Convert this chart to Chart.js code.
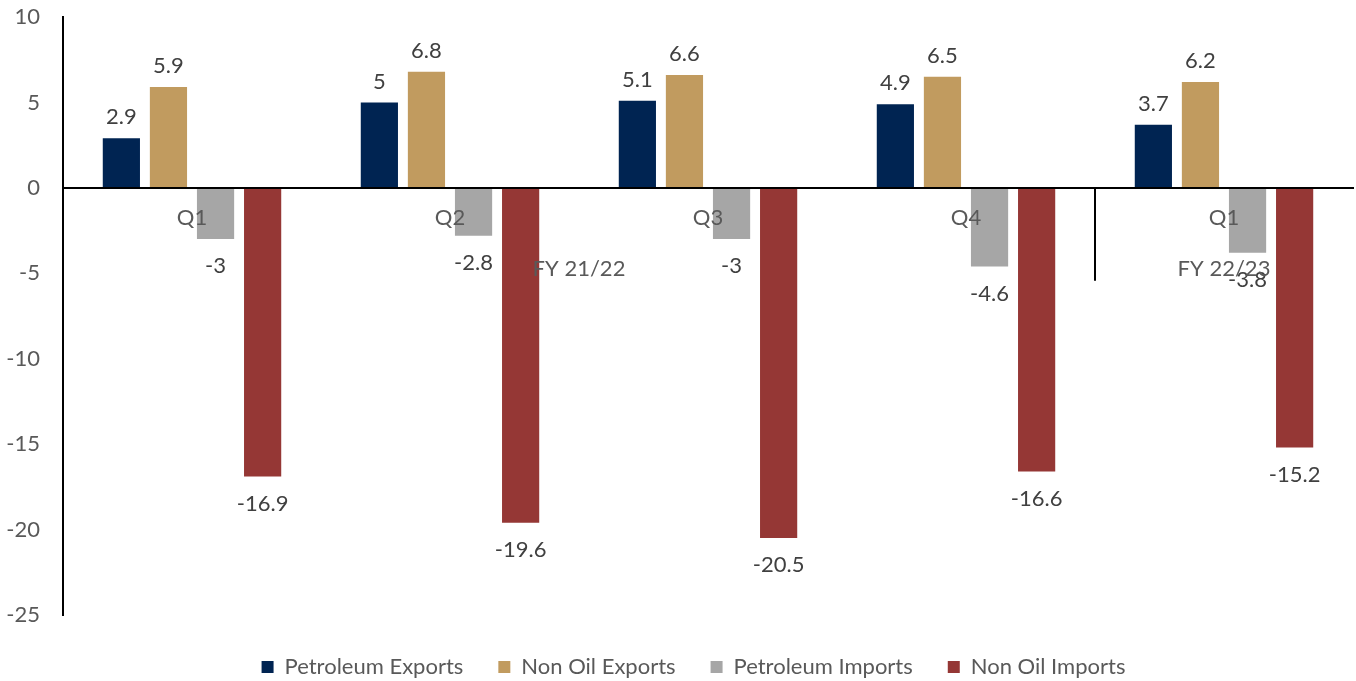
<!DOCTYPE html>
<html>
<head>
<meta charset="utf-8">
<script src="https://cdn.jsdelivr.net/npm/chart.js@4.4.1/dist/chart.umd.min.js"></script>
<style>
  html, body { margin: 0; padding: 0; background: #fff; }
</style>
</head>
<body>
<canvas id="myChart" width="1356" height="681"></canvas>
<script>
// quarters on the x axis, fiscal years grouped underneath
var quarters = ['Q1', 'Q2', 'Q3', 'Q4', 'Q1'];
var fiscalYears = ['FY 21/22', 'FY 22/23'];
var fiscalYearQuarters = [[0, 3], [4, 4]];

var petroleumExports = [2.9, 5, 5.1, 4.9, 3.7];
var nonOilExports = [5.9, 6.8, 6.6, 6.5, 6.2];
var petroleumImports = [-3, -2.8, -3, -4.6, -3.8];
var nonOilImports = [-16.9, -19.6, -20.5, -16.6, -15.2];

var yTicks = [-25, -20, -15, -10, -5, 0, 5, 10];

var FONT = 'Lato, "Open Sans", sans-serif';
var TEXT = '#595959';

// value labels: above positive bars, below negative ones
var barValues = {
  id: 'barValues',
  afterDatasetsDraw(chart) {
    var ctx = chart.ctx;
    ctx.save();
    ctx.font = '22px ' + FONT;
    ctx.fillStyle = '#404040';
    ctx.textAlign = 'center';
    ctx.textBaseline = 'middle';
    chart.data.datasets.forEach((ds, i) => {
      chart.getDatasetMeta(i).data.forEach((bar, j) => {
        var v = ds.data[j];
        var y = v >= 0 ? bar.y - 21 : bar.y + 27;
        ctx.fillText(String(v), bar.x, y);
      });
    });
    ctx.restore();
  }
};

// second level of category labels plus the divider between years
var yearLabels = {
  id: 'yearLabels',
  afterDraw(chart) {
    var x = chart.scales.x, y = chart.scales.y;
    var zero = y.getPixelForValue(0);
    var ctx = chart.ctx;
    ctx.save();
    ctx.font = '22px ' + FONT;
    ctx.fillStyle = TEXT;
    ctx.textAlign = 'center';
    ctx.textBaseline = 'middle';
    fiscalYears.forEach((label, i) => {
      var r = fiscalYearQuarters[i];
      var cx = (x.getPixelForValue(r[0]) + x.getPixelForValue(r[1])) / 2;
      ctx.fillText(label, cx, zero + 81);
    });
    // divider between the two years
    var dx = (x.getPixelForValue(3) + x.getPixelForValue(4)) / 2;
    ctx.strokeStyle = '#000';
    ctx.lineWidth = 2;
    ctx.beginPath();
    ctx.moveTo(dx, zero);
    ctx.lineTo(dx, zero + 93);
    ctx.stroke();
    ctx.restore();
  }
};

// fixed legend height, legend nudged a bit right of centre
var legendBox = {
  id: 'legendBox',
  beforeInit(chart) {
    var fit = chart.legend.fit;
    chart.legend.fit = function () {
      fit.call(this);
      this.height = 60;
    };
  },
  afterLayout(chart) {
    chart.legend.left += 34;
  }
};

var ctx = document.getElementById('myChart').getContext('2d');
var myChart = new Chart(ctx, {
  type: 'bar',
  data: {
    labels: quarters,
    datasets: [
      { label: 'Petroleum Exports', data: petroleumExports, backgroundColor: '#002452' },
      { label: 'Non Oil Exports', data: nonOilExports, backgroundColor: '#C19B5F' },
      { label: 'Petroleum Imports', data: petroleumImports, backgroundColor: '#A6A6A6' },
      { label: 'Non Oil Imports', data: nonOilImports, backgroundColor: '#953735' }
    ]
  },
  options: {
    responsive: false,
    animation: false,
    categoryPercentage: 0.73,
    barPercentage: 0.79,
    layout: { padding: { top: 0, right: 3, left: 0, bottom: 0 } },
    scales: {
      x: {
        position: { y: 0 },
        grid: { display: false, drawTicks: false },
        border: { display: true, color: '#000', width: 2, z: 1 },
        ticks: { z: 1, color: TEXT, font: { family: FONT, size: 22 }, padding: 17, maxRotation: 0 }
      },
      spacer: {
        axis: 'x',
        type: 'category',
        position: 'bottom',
        grid: { display: false, drawTicks: false },
        border: { display: false },
        ticks: { display: false },
        afterFit(scale) { scale.height = 6; }
      },
      y: {
        min: -25,
        max: 10,
        afterBuildTicks(scale) { scale.ticks = yTicks.map(v => ({ value: v })); },
        afterFit(scale) {
          scale.width = 63;
          scale.paddingTop = 17;
          scale.paddingBottom = 0;
        },
        grid: { display: false, drawTicks: false },
        border: { display: true, color: '#000', width: 2 },
        ticks: { color: TEXT, font: { family: FONT, size: 22 }, padding: 23 }
      }
    },
    plugins: {
      legend: {
        position: 'bottom',
        labels: {
          boxWidth: 12,
          boxHeight: 12,
          padding: 35,
          color: TEXT,
          font: { family: FONT, size: 22 }
        }
      },
      tooltip: { enabled: false }
    }
  },
  plugins: [barValues, yearLabels, legendBox]
});
</script>
</body>
</html>
